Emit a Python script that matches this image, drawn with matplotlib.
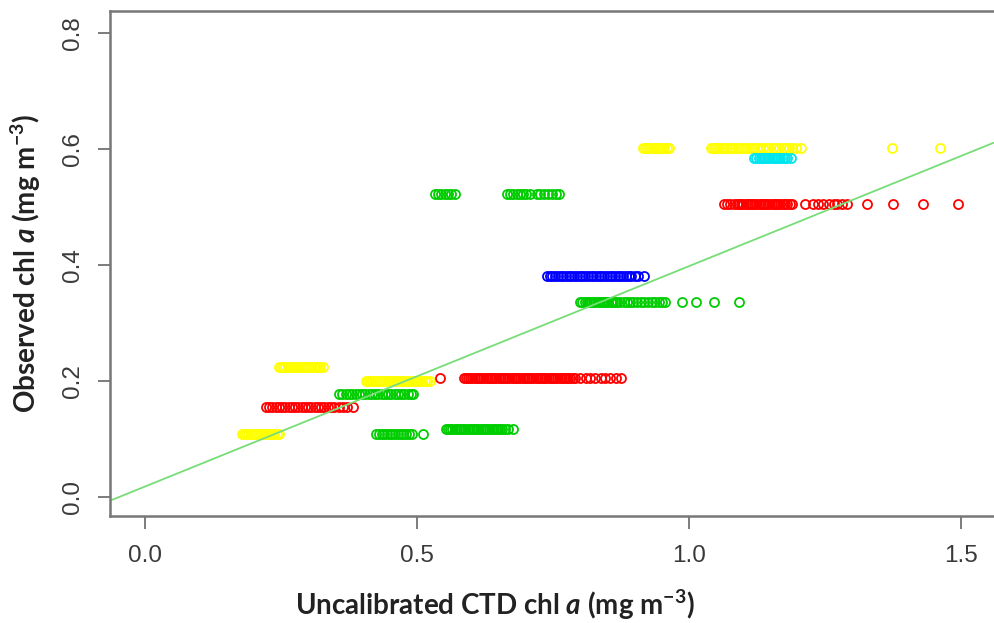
import matplotlib
matplotlib.use('Agg')
import matplotlib.pyplot as plt

plt.rcParams['mathtext.fontset'] = 'custom'
plt.rcParams['mathtext.rm'] = 'Lato:bold'
plt.rcParams['mathtext.it'] = 'Lato:italic:bold'
plt.rcParams['mathtext.bf'] = 'Lato:bold'

# yellow stations: one x list per observed level
yellow_levels = [0.601, 0.224, 0.2, 0.108]
yellow_xs = [
    [0.915, 0.919, 0.923, 0.927, 0.931, 0.935, 0.939, 0.943, 0.947, 0.951, 0.955, 0.959, 0.963,
     1.04, 1.044, 1.048, 1.052, 1.056, 1.06, 1.065, 1.07, 1.075, 1.08, 1.085, 1.09, 1.095,
     1.1, 1.105, 1.11, 1.115, 1.12, 1.125, 1.13, 1.136, 1.142, 1.148, 1.154, 1.16, 1.166,
     1.172, 1.178, 1.184, 1.19, 1.197, 1.206, 1.373, 1.461],
    [0.246, 0.25, 0.254, 0.258, 0.262, 0.266, 0.27, 0.274, 0.278, 0.282, 0.286, 0.29,
     0.294, 0.298, 0.302, 0.306, 0.31, 0.314, 0.318, 0.322, 0.327],
    [0.406, 0.41, 0.414, 0.418, 0.422, 0.426, 0.43, 0.434, 0.438, 0.442, 0.446, 0.45,
     0.454, 0.458, 0.462, 0.466, 0.47, 0.474, 0.478, 0.482, 0.486, 0.49, 0.494, 0.498,
     0.502, 0.506, 0.51, 0.514, 0.518, 0.524],
    [0.178, 0.182, 0.186, 0.19, 0.194, 0.198, 0.202, 0.206, 0.21, 0.214, 0.218, 0.222,
     0.226, 0.23, 0.234, 0.238, 0.242, 0.246],
]

# red stations
red_levels = [0.505, 0.205, 0.155]
red_xs = [
    [1.064, 1.07, 1.076, 1.082, 1.088, 1.092, 1.096, 1.1, 1.104, 1.108, 1.112, 1.116,
     1.12, 1.124, 1.128, 1.132, 1.136, 1.14, 1.144, 1.148, 1.152, 1.156, 1.16, 1.164,
     1.168, 1.172, 1.176, 1.18, 1.185, 1.19,
     1.213, 1.228, 1.238, 1.246, 1.257, 1.266, 1.272, 1.282, 1.29, 1.327, 1.375, 1.43, 1.494],
    [0.542,
     0.586, 0.59, 0.594, 0.598, 0.602, 0.606, 0.61, 0.614, 0.618, 0.622, 0.626, 0.63,
     0.634, 0.638, 0.642, 0.646, 0.65, 0.654, 0.658, 0.662, 0.666, 0.67, 0.674, 0.678,
     0.682, 0.686, 0.69, 0.694, 0.698, 0.702, 0.706, 0.71, 0.714, 0.718, 0.722, 0.726,
     0.73, 0.734, 0.738, 0.742, 0.746, 0.75, 0.754, 0.758, 0.762, 0.766, 0.77, 0.774,
     0.778, 0.782, 0.786, 0.79, 0.8, 0.81, 0.818, 0.828, 0.838, 0.846, 0.855, 0.866, 0.875],
    [0.222, 0.228, 0.234, 0.24, 0.246, 0.252, 0.258, 0.264, 0.27, 0.276, 0.282, 0.288,
     0.294, 0.3, 0.306, 0.312, 0.318, 0.324, 0.33, 0.336, 0.342, 0.348, 0.356, 0.364,
     0.372, 0.382],
]

# green stations
green_levels = [0.523, 0.336, 0.177, 0.117, 0.108]
green_xs = [
    [0.533, 0.539, 0.545, 0.551, 0.557, 0.563, 0.57,
     0.665, 0.671, 0.677, 0.683, 0.689, 0.695, 0.701, 0.708, 0.72, 0.727, 0.734, 0.741,
     0.748, 0.755, 0.761],
    [0.8, 0.804, 0.808, 0.812, 0.816, 0.82, 0.824, 0.828, 0.832, 0.836, 0.84, 0.844,
     0.848, 0.852, 0.856, 0.86, 0.864, 0.868, 0.874, 0.88, 0.886, 0.892, 0.898, 0.905,
     0.912, 0.918, 0.925, 0.932, 0.938, 0.944, 0.95, 0.956, 0.987, 1.013, 1.046, 1.092],
    [0.357, 0.363, 0.369, 0.375, 0.381, 0.387, 0.393, 0.399, 0.405, 0.411, 0.417, 0.423,
     0.429, 0.435, 0.441, 0.447, 0.453, 0.459, 0.465, 0.471, 0.477, 0.483, 0.489, 0.493],
    [0.553, 0.557, 0.561, 0.565, 0.569, 0.573, 0.577, 0.581, 0.585, 0.589, 0.593, 0.597,
     0.601, 0.605, 0.609, 0.613, 0.617, 0.621, 0.625, 0.629, 0.633, 0.637, 0.641, 0.645,
     0.649, 0.653, 0.657, 0.662, 0.668, 0.676],
    [0.425, 0.43, 0.435, 0.44, 0.445, 0.45, 0.455, 0.46, 0.465, 0.47, 0.475, 0.48,
     0.485, 0.49, 0.511],
]

# blue stations
blue_levels = [0.381]
blue_xs = [
    [0.739, 0.744, 0.749, 0.754, 0.759, 0.764, 0.769, 0.774, 0.779, 0.784, 0.789,
     0.794, 0.799, 0.804, 0.809, 0.814, 0.819, 0.824, 0.829, 0.834, 0.839, 0.844, 0.849,
     0.854, 0.859, 0.864, 0.869, 0.874, 0.879, 0.884, 0.889, 0.894, 0.9, 0.906, 0.917],
]

# cyan stations
cyan_levels = [0.584]
cyan_xs = [
    [1.12, 1.124, 1.128, 1.132, 1.136, 1.14, 1.144, 1.148, 1.152, 1.156, 1.16, 1.164,
     1.168, 1.172, 1.176, 1.181, 1.187],
]

# fitted line
fit_slope = 0.38
fit_intercept = 0.018

fig = plt.figure(figsize=(9.94, 6.23), dpi=100)
ax = fig.add_axes([110 / 994, 107 / 623, 884 / 994, 505 / 623])

mk = dict(marker='o', linestyle='none', mfc='none', ms=6.5, mew=1.3)
groups = [(yellow_levels, yellow_xs, '#ffff00'),
          (red_levels, red_xs, '#ff0000'),
          (green_levels, green_xs, '#00cd00'),
          (blue_levels, blue_xs, '#0000ff'),
          (cyan_levels, cyan_xs, '#00e5ee')]
for levels, xs, col in groups:
    for lev, x in zip(levels, xs):
        ax.plot(x, [lev] * len(x), mec=col, **mk)

xl = (-0.0643, 1.5607)
ax.plot(xl, [fit_intercept + fit_slope * v for v in xl], color='#77dd77', lw=1.3)

ax.set_xlim(xl)
ax.set_ylim(-0.0328, 0.838)
ax.set_xticks([0.0, 0.5, 1.0, 1.5])
ax.set_yticks([0.0, 0.2, 0.4, 0.6, 0.8])
ax.set_xticklabels(['0.0', '0.5', '1.0', '1.5'], fontfamily='Liberation Sans', fontsize=17.5, color='#3a3a3a')
ax.set_yticklabels(['0.0', '0.2', '0.4', '0.6', '0.8'], fontfamily='Liberation Sans', fontsize=17.5,
                   color='#3a3a3a', rotation=90, va='center')
ax.tick_params(axis='x', length=9, width=1.2, color='#666666', pad=12)
ax.tick_params(axis='y', length=9, width=1.2, color='#666666', pad=10)
ax.spines['right'].set_visible(False)
for s in ['left', 'top', 'bottom']:
    ax.spines[s].set_color('#777777')
    ax.spines[s].set_linewidth(1.8)

ax.set_xlabel(r'Uncalibrated CTD chl $\mathit{a}$ (mg m$^{-3}$)', fontfamily='Lato', fontweight='bold',
              fontsize=20, color='#222222', va='center')
ax.xaxis.set_label_coords((495 - 110) / 884, -(605 - 516) / 505)
ax.set_ylabel(r'Observed chl $\mathit{a}$ (mg m$^{-3}$)', fontfamily='Lato', fontweight='bold',
              fontsize=20, color='#222222', va='center')
ax.yaxis.set_label_coords(-(110 - 26) / 884, 0.5)

plt.savefig('out.png', dpi=100)
